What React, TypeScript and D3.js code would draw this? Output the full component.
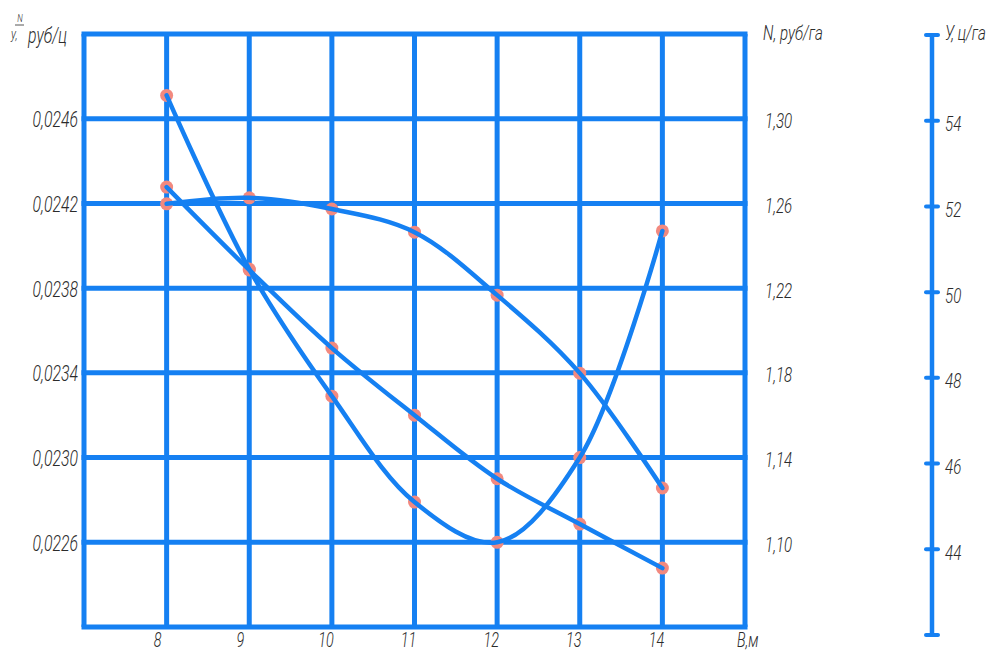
import * as React from 'react'
import * as d3 from 'd3'

// width of the field, B (m)
const widths = [8, 9, 10, 11, 12, 13, 14]
// N/У, руб/ц  (left axis)
const costPerQuintal = [0.02471, 0.02389, 0.02329, 0.02279, 0.0226, 0.023, 0.02407]
// N, руб/га  (right axis)
const costPerHa = [1.2677, 1.2286, 1.1917, 1.16, 1.13, 1.1086, 1.0878]
// У, ц/га  (outer axis)
const yieldPerHa = [52.06, 52.2, 51.94, 51.4, 49.93, 48.11, 45.43]

const leftTicks = [0.0246, 0.0242, 0.0238, 0.0234, 0.023, 0.0226]
const rightTicks = [1.3, 1.26, 1.22, 1.18, 1.14, 1.1]
const yieldTicks = [54, 52, 50, 48, 46, 44]

const BLUE = '#1580f2'
const DOT = '#f2897f'
const FONT = "Roboto, 'DejaVu Sans', sans-serif"
const TEXT = '#2b2b2b'
const SQUEEZE = 0.72

const fmt = (d: number, digits: number) => d.toFixed(digits).replace('.', ',')

// text drawn narrow, like a drafting font
function label(g: any, x: number, y: number, str: string, size: number, anchor = 'start') {
  return g
    .append('text')
    .attr('transform', `translate(${x},${y}) scale(${SQUEEZE},1)`)
    .attr('font-family', FONT)
    .attr('font-style', 'italic')
    .attr('font-weight', 300)
    .attr('font-size', size)
    .attr('fill', TEXT)
    .attr('text-anchor', anchor)
    .attr('dominant-baseline', 'central')
    .text(str)
}

function Chart() {
  const ref = React.useRef<SVGSVGElement>(null)

  React.useEffect(() => {
    const svg = d3.select(ref.current)
    svg.selectAll('*').remove()

    const x = d3.scaleLinear().domain([7, 15]).range([84, 745])
    const yLeft = d3.scaleLinear().domain([0.0222, 0.025]).range([627, 34])
    const yRight = d3.scaleLinear().domain([1.06, 1.34]).range([627, 34])
    const yYield = d3.scaleLinear().domain([42, 56]).range([635, 35])

    const grid = svg.append('g')
    const [x0, x1] = x.range()
    const [yb, yt] = yLeft.range()

    // vertical grid lines
    grid
      .selectAll('line.v')
      .data(d3.range(7, 16))
      .enter()
      .append('line')
      .attr('x1', (d) => x(d))
      .attr('x2', (d) => x(d))
      .attr('y1', yt)
      .attr('y2', yb)
      .attr('stroke', BLUE)
      .attr('stroke-width', 5)

    // horizontal grid lines
    grid
      .selectAll('line.h')
      .data([0.0222, ...leftTicks, 0.025])
      .enter()
      .append('line')
      .attr('x1', x0 - 2.5)
      .attr('x2', x1 + 2.5)
      .attr('y1', (d) => yLeft(d))
      .attr('y2', (d) => yLeft(d))
      .attr('stroke', BLUE)
      .attr('stroke-width', 5)

    const labels = svg.append('g')

    leftTicks.forEach((d) => label(labels, 78, yLeft(d) + 1, fmt(d, 4), 22, 'end'))
    rightTicks.forEach((d) => label(labels, 765, yRight(d) + 2, fmt(d, 2), 21))
    widths.forEach((d) => label(labels, x(d) - (d < 10 ? 9 : 6), 640, String(d), 20, 'middle'))
    label(labels, 737, 640, 'В,м', 20)

    // outer yield axis
    const ax = 932
    const yAxis = svg.append('g')
    yAxis
      .append('line')
      .attr('x1', ax)
      .attr('x2', ax)
      .attr('y1', yYield(56))
      .attr('y2', yYield(42))
      .attr('stroke', BLUE)
      .attr('stroke-width', 4.5)
    yAxis
      .selectAll('line.tick')
      .data([56, ...yieldTicks, 42])
      .enter()
      .append('line')
      .attr('x1', ax - 6)
      .attr('x2', ax + 6)
      .attr('y1', (d) => yYield(d))
      .attr('y2', (d) => yYield(d))
      .attr('stroke', BLUE)
      .attr('stroke-width', 4)
      .attr('stroke-linecap', 'round')
    yieldTicks.forEach((d) => label(labels, 945, yYield(d) + 3, String(d), 21))

    // axis titles
    label(labels, 763, 33, 'N, руб/га', 21)
    label(labels, 945, 33, 'У, ц/га', 21)

    label(labels, 20, 18, 'N', 11, 'middle')
    labels
      .append('line')
      .attr('x1', 15)
      .attr('x2', 24)
      .attr('y1', 25)
      .attr('y2', 25)
      .attr('stroke', TEXT)
      .attr('stroke-width', 0.8)
    label(labels, 11, 34, 'у,', 15)
    label(labels, 28, 36, 'руб/ц', 22)

    // series
    const series = [
      { values: costPerQuintal, y: yLeft },
      { values: costPerHa, y: yRight },
      { values: yieldPerHa, y: yYield },
    ]

    const dots = svg.append('g')
    const curves = svg.append('g')

    series.forEach((s) => {
      const pts = widths.map((w, i) => [x(w), s.y(s.values[i])] as [number, number])

      dots
        .selectAll(null)
        .data(pts)
        .enter()
        .append('circle')
        .attr('cx', (d) => d[0])
        .attr('cy', (d) => d[1])
        .attr('r', 6.5)
        .attr('fill', DOT)

      const line = d3.line().curve(d3.curveCatmullRom.alpha(0.5))
      curves
        .append('path')
        .attr('d', line(pts))
        .attr('fill', 'none')
        .attr('stroke', BLUE)
        .attr('stroke-width', 4.5)
        .attr('stroke-linecap', 'round')
    })
  }, [])

  return (
    <svg
      ref={ref}
      width={1005}
      height={652}
      style={{ position: 'absolute', left: 0, top: 0, background: '#fff' }}
    />
  )
}

export default function App() {
  return <Chart />
}
